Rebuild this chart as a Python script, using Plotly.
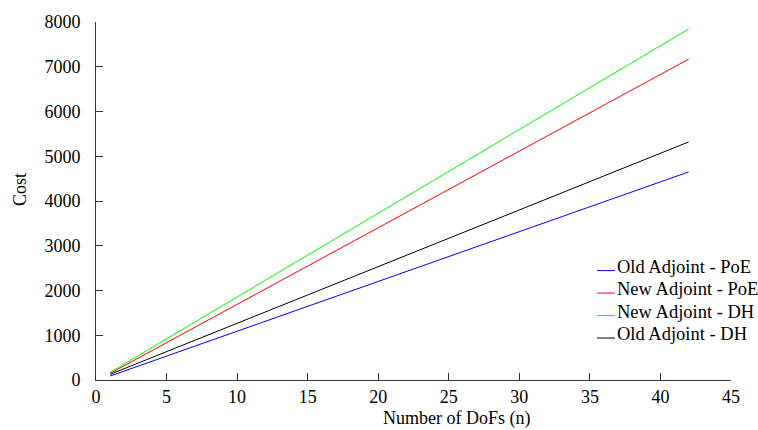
import plotly.graph_objects as go

n_vals = [1, 42]
old_poe = [89, 4650]
new_poe = [149, 7170]
new_dh = [171, 7845]
old_dh = [127, 5320]

series_names = ["Old Adjoint - PoE", "New Adjoint - PoE", "New Adjoint - DH", "Old Adjoint - DH"]
series_vals = [old_poe, new_poe, new_dh, old_dh]
series_colors = ["#0000ff", "#ff0000", "#00ff00", "#000000"]

x_ticks = [0, 5, 10, 15, 20, 25, 30, 35, 40, 45]
y_ticks = [0, 1000, 2000, 3000, 4000, 5000, 6000, 7000, 8000]

font_family = "Liberation Serif"

L, R, T, B = 96, 731, 20, 380
W, H = 758, 430


def px(x):
    return (x - L) / (R - L)


def py(y):
    return (B - y) / (B - T)


fig = go.Figure()
for name, vals, col in zip(series_names, series_vals, series_colors):
    fig.add_trace(go.Scatter(x=n_vals, y=vals, mode="lines", name=name,
                             line=dict(color=col, width=1), showlegend=False))

# custom legend
leg_y0 = 270
leg_dy = 22.6
for i, (name, col) in enumerate(zip(series_names, series_colors)):
    ly = leg_y0 + i * leg_dy
    fig.add_shape(type="line", xref="paper", yref="paper",
                  x0=px(597), x1=px(615), y0=py(ly), y1=py(ly),
                  line=dict(color=col, width=1))
    fig.add_annotation(xref="paper", yref="paper",
                       x=px(615), y=py(ly - 4), text=name, showarrow=False,
                       xanchor="left", yanchor="middle",
                       font=dict(family=font_family, size=18.5, color="#000"))

# axis titles
fig.add_annotation(xref="paper", yref="paper", x=px(456), y=py(419),
                   text="Number of DoFs (n)", showarrow=False,
                   xanchor="center", yanchor="middle",
                   font=dict(family=font_family, size=18, color="#000"))
fig.add_annotation(xref="paper", yref="paper", x=px(20), y=py(189),
                   text="Cost", showarrow=False, textangle=-90,
                   xanchor="center", yanchor="middle",
                   font=dict(family=font_family, size=18, color="#000"))

fig.update_layout(
    width=W, height=H,
    margin=dict(l=L, r=W - R, t=T, b=H - B),
    paper_bgcolor="white", plot_bgcolor="white",
    font=dict(family=font_family, size=18, color="#000"),
    showlegend=False,
)
fig.update_xaxes(range=[0, 45], tickvals=x_ticks, ticks="inside", ticklen=7,
                 tickcolor="#333", showline=True, linecolor="#333", linewidth=1,
                 showgrid=False, zeroline=False, ticklabelstandoff=0)
fig.update_yaxes(range=[0, 8000], tickvals=y_ticks, ticks="inside", ticklen=7,
                 tickcolor="#333", showline=True, linecolor="#333", linewidth=1,
                 showgrid=False, zeroline=False, ticklabelstandoff=11)

fig.write_html("out.html")
